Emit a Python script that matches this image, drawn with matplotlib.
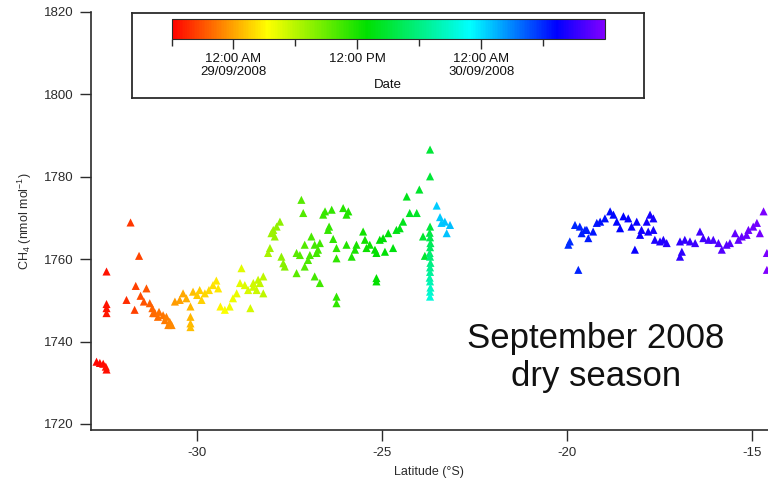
import matplotlib
matplotlib.use('Agg')
import matplotlib.pyplot as plt
from matplotlib.colors import LinearSegmentedColormap, Normalize
from matplotlib.cm import ScalarMappable

plt.rcParams['font.family'] = ['Liberation Sans', 'DejaVu Sans']
plt.rcParams['mathtext.fontset'] = 'custom'
plt.rcParams['mathtext.rm'] = 'Liberation Sans'
plt.rcParams['mathtext.it'] = 'Liberation Sans:italic'
plt.rcParams['axes.unicode_minus'] = False

# latitude (deg), CH4 (nmol/mol), time in hours after 28/09/2008 18:00
lat = [-32.72, -32.63, -32.54, -32.47, -32.45,
       -32.45, -32.45, -32.45, -32.45,
       -31.91, -31.80, -31.69, -31.66, -31.57, -31.53, -31.44, -31.37, -31.28,
       -31.21, -31.19, -31.14, -31.06, -31.03, -30.92, -30.87, -30.83, -30.78,
       -30.74, -30.69,
       -30.60, -30.47, -30.38, -30.29, -30.18, -30.18, -30.18, -30.18, -30.11,
       -30.00, -29.93, -29.88, -29.79, -29.68, -29.57, -29.48, -29.43,
       -29.37, -29.25, -29.12, -29.03, -28.93, -28.84, -28.80, -28.71, -28.62,
       -28.56, -28.48, -28.48, -28.39, -28.35, -28.30, -28.21, -28.21,
       -28.08, -28.03, -27.99, -27.94, -27.90, -27.85, -27.76, -27.72, -27.67,
       -27.63,
       -27.31, -27.31, -27.22, -27.18, -27.13, -27.09, -27.09, -27.00, -26.95,
       -26.91, -26.82, -26.82, -26.77, -26.73, -26.68, -26.68, -26.59, -26.54,
       -26.46, -26.43, -26.36, -26.32, -26.23, -26.23, -26.23, -26.23, -26.05,
       -25.96, -25.96, -25.91, -25.82, -25.73, -25.69, -25.51, -25.46, -25.42,
       -25.33, -25.19, -25.15, -25.15, -25.15, -25.06, -24.97, -24.92, -24.83,
       -24.70, -24.61, -24.52, -24.43, -24.33, -24.25, -24.06, -23.99, -23.89,
       -23.84, -23.70, -23.70,
       -23.70, -23.71, -23.70, -23.69, -23.70, -23.71, -23.70, -23.69, -23.70,
       -23.70, -23.71, -23.70, -23.69, -23.70, -23.70,
       -23.52, -23.43, -23.39, -23.30, -23.25, -23.16,
       -19.96, -19.92, -19.78, -19.69, -19.65, -19.60, -19.51, -19.46, -19.42,
       -19.29, -19.19, -19.10, -18.97, -18.83, -18.74, -18.65, -18.56, -18.47,
       -18.34, -18.25, -18.16, -18.11, -18.02, -17.98, -17.84, -17.80, -17.75,
       -17.66, -17.66, -17.62, -17.48, -17.39, -17.30,
       -16.94, -16.89, -16.94, -16.81, -16.67, -16.53, -16.40, -16.31, -16.17,
       -16.04, -15.90, -15.81, -15.68, -15.59, -15.45, -15.36, -15.27, -15.14,
       -15.09, -14.96, -14.86, -14.78, -14.68, -14.59, -14.59]

ch4 = [1735.1, 1734.8, 1734.6, 1733.9, 1733.2,
       1757.0, 1749.1, 1748.1, 1746.9,
       1750.1, 1768.9, 1747.7, 1753.5, 1760.8, 1751.1, 1749.7, 1752.9, 1749.3,
       1748.1, 1746.9, 1746.9, 1746.0, 1747.2, 1746.4, 1745.2, 1746.0, 1744.0,
       1744.8, 1744.0,
       1749.7, 1750.1, 1751.7, 1750.5, 1748.5, 1746.0, 1744.4, 1743.5, 1752.1,
       1751.3, 1752.5, 1750.1, 1751.7, 1752.5, 1753.7, 1754.8, 1752.9,
       1748.5, 1747.7, 1748.5, 1750.5, 1751.7, 1754.2, 1757.8, 1753.7, 1752.5,
       1748.1, 1754.2, 1753.3, 1752.5, 1755.0, 1754.2, 1755.8, 1751.7,
       1761.5, 1762.7, 1766.3, 1767.1, 1765.5, 1767.9, 1769.1, 1760.6, 1759.0,
       1758.2,
       1761.5, 1756.6, 1761.0, 1774.4, 1771.2, 1763.5, 1758.2, 1759.8, 1761.0,
       1765.5, 1763.5, 1755.8, 1761.5, 1762.3, 1763.9, 1754.2, 1770.8, 1771.6,
       1767.1, 1767.9, 1772.0, 1764.9, 1762.7, 1760.2, 1750.9, 1749.3, 1772.4,
       1770.8, 1763.5, 1771.6, 1760.6, 1762.3, 1763.5, 1766.7, 1764.7, 1762.7,
       1763.5, 1762.3, 1761.5, 1755.4, 1754.6, 1764.7, 1765.1, 1761.8, 1766.3,
       1762.7, 1767.1, 1767.5, 1769.1, 1775.2, 1771.2, 1771.2, 1776.9, 1765.5,
       1760.8, 1786.6, 1780.1,
       1767.9, 1766.4, 1765.3, 1763.9, 1762.9, 1761.5, 1760.6, 1759.1, 1758.0,
       1756.9, 1755.5, 1754.6, 1753.1, 1752.1, 1750.9,
       1773.0, 1770.2, 1768.8, 1769.1, 1766.3, 1768.3,
       1763.5, 1764.3, 1768.3, 1757.4, 1767.9, 1766.3, 1767.1, 1767.1, 1765.1,
       1766.7, 1768.8, 1769.1, 1769.9, 1771.6, 1770.8, 1769.1, 1767.5, 1770.4,
       1769.9, 1767.9, 1762.3, 1769.1, 1765.9, 1767.1, 1769.1, 1766.7, 1770.8,
       1769.9, 1767.1, 1764.7, 1764.3, 1764.7, 1763.9,
       1764.3, 1761.8, 1760.6, 1764.7, 1764.3, 1763.9, 1766.7, 1765.1, 1764.7,
       1764.7, 1763.9, 1762.3, 1763.5, 1763.9, 1766.3, 1764.7, 1765.5, 1765.9,
       1767.1, 1767.9, 1768.8, 1766.3, 1771.6, 1761.5, 1757.4]

hours = [0.2, 0.3, 0.4, 0.5, 0.5,
         0.7, 0.8, 0.8, 0.9,
         1.8, 2.0, 2.3, 2.4, 2.5, 2.8, 3.0, 3.2, 3.5,
         3.7, 3.8, 3.9, 4.1, 4.2, 4.4, 4.5, 4.6, 4.8,
         4.9, 5.0,
         5.6, 5.9, 6.1, 6.3, 6.6, 6.7, 6.8, 6.9, 7.0,
         7.3, 7.5, 7.6, 7.8, 8.0, 8.2, 8.4, 8.5,
         9.0, 9.4, 9.7, 9.9, 10.1, 10.3, 10.4, 10.6, 10.8,
         10.9, 11.1, 11.1, 11.3, 11.4, 11.5, 11.7, 11.7,
         12.6, 12.8, 13.0, 13.1, 13.2, 13.3, 13.5, 13.6, 13.7,
         13.8,
         15.5, 15.5, 15.6, 15.7, 15.8, 15.8, 15.8, 16.0, 16.1,
         16.1, 16.3, 16.3, 16.4, 16.4, 16.5, 16.5, 16.7, 16.8,
         16.9, 16.9, 17.0, 17.1, 17.2, 17.2, 17.2, 17.2, 17.5,
         17.6, 17.6, 17.7, 17.8, 17.9, 18.0, 18.3, 18.3, 18.4,
         18.5, 18.8, 18.8, 18.8, 18.8, 18.9, 19.1, 19.1, 19.3,
         19.5, 19.6, 19.8, 19.9, 20.0, 20.2, 20.4, 20.6, 20.7,
         20.8, 21.0, 21.0,
         21.3, 21.6, 22.0, 22.4, 22.8, 23.2, 23.6, 24.0, 24.5,
         25.0, 25.5, 26.0, 26.5, 27.0, 27.5,
         30.6, 30.7, 30.8, 30.9, 31.0, 31.1,
         35.8, 35.9, 36.0, 36.1, 36.2, 36.3, 36.4, 36.4, 36.5,
         36.6, 36.7, 36.8, 36.9, 37.0, 37.1, 37.2, 37.3, 37.4,
         37.5, 37.6, 37.7, 37.7, 37.8, 37.9, 38.0, 38.0, 38.1,
         38.2, 38.2, 38.3, 38.4, 38.5, 38.6,
         39.0, 39.0, 39.0, 39.1, 39.3, 39.4, 39.6, 39.7, 39.8,
         40.0, 40.2, 40.3, 40.4, 40.5, 40.7, 40.8, 40.9, 41.1,
         41.2, 41.3, 41.4, 41.5, 41.7, 41.8, 41.9]

# colour bar: 28/09/2008 18:00 to 30/09/2008 12:00
cbar_span = 42
cbar_major = [6, 18, 30]
cbar_minor = [0, 12, 24, 36]
cbar_labels = ['12:00 AM\n29/09/2008', '12:00 PM', '12:00 AM\n30/09/2008']

x_ticks = [-30, -25, -20, -15]
y_ticks = [1720, 1740, 1760, 1780, 1800, 1820]

rainbow = LinearSegmentedColormap.from_list('rainbow_igor', [
    (0.0, '#ff0000'), (0.22, '#ffff00'), (0.45, '#00e000'),
    (0.69, '#00ffff'), (0.89, '#0000ff'), (1.0, '#8000ff')])
norm = Normalize(0, cbar_span)

ink = '#2b2b2b'
fig = plt.figure(figsize=(7.68, 4.8), dpi=100)
ax = fig.add_axes([0.118, 0.104, 0.882, 0.871])
ax.scatter(lat, ch4, c=hours, cmap=rainbow, norm=norm, marker='^', s=34,
           linewidths=0)
ax.set_xlim(-32.88, -14.56)
ax.set_ylim(1718.5, 1820)
ax.set_xticks(x_ticks)
ax.set_yticks(y_ticks)
for s in ['top', 'right']:
    ax.spines[s].set_visible(False)
for s in ['left', 'bottom']:
    ax.spines[s].set_color(ink)
    ax.spines[s].set_linewidth(1.2)
ax.tick_params(direction='out', length=8, width=1.0, color=ink,
               labelcolor=ink, labelsize=9.5, pad=4.5)
ax.set_xlabel('Latitude (°S)', fontsize=9, color=ink, labelpad=5)
ax.set_ylabel('CH$_4$ (nmol mol$^{-1}$)', fontsize=9, color=ink, labelpad=7)

fig.text(0.776, 0.256, 'September 2008\ndry season', fontsize=25,
         ha='center', va='center', multialignment='center', color='#111111')

# boxed colour scale
box = fig.add_axes([0.1715, 0.7965, 0.667, 0.177])
box.set_xticks([])
box.set_yticks([])
box.set_facecolor('white')
for s in box.spines.values():
    s.set_color(ink)
    s.set_linewidth(1.3)
box.set_zorder(3)

cax = fig.add_axes([0.2234, 0.918, 0.5643, 0.0417])
cax.set_zorder(4)
cb = fig.colorbar(ScalarMappable(norm=norm, cmap=rainbow), cax=cax,
                  orientation='horizontal')
cb.outline.set_edgecolor(ink)
cb.outline.set_linewidth(0.8)
cb.set_ticks(cbar_major)
cb.set_ticklabels(cbar_labels)
cax.set_xticks(cbar_minor, minor=True)
cax.tick_params(which='major', length=7.5, width=1.0, color=ink,
                labelcolor='#111111', labelsize=9.5, pad=2.5)
cax.tick_params(which='minor', length=5, width=1.0, color=ink)
for t in cax.get_xticklabels():
    t.set_linespacing(1.05)
cax.set_xlabel('Date', fontsize=9.5, color='#111111', labelpad=1)

fig.savefig('out.png', dpi=100)
